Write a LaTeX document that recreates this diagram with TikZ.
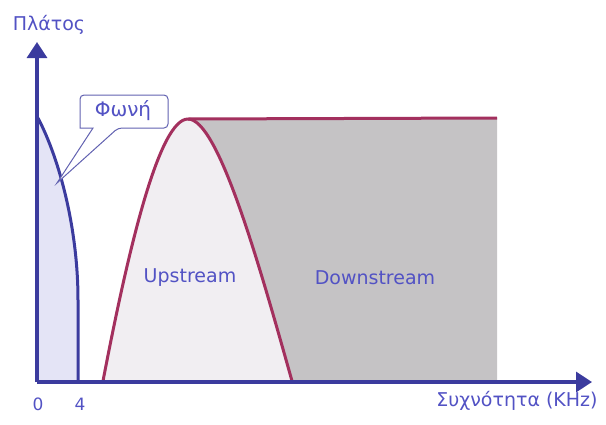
\documentclass[tikz,border=0pt]{standalone}
\usepackage{fontspec}
\setmainfont{DejaVu Sans}
\usetikzlibrary{arrows.meta}
\definecolor{axisblue}{HTML}{3B3B9E}
\definecolor{txtblue}{HTML}{5252C4}
\definecolor{curvered}{HTML}{A3305E}
\definecolor{voicefill}{HTML}{E4E4F6}
\definecolor{upfill}{HTML}{F1EEF2}
\definecolor{downfill}{HTML}{C5C3C5}
\tikzset{
  axisline/.style={draw=axisblue, line width=3.2pt, -{Triangle[length=16pt,width=20pt]}},
  bandline/.style={draw=curvered, line width=3pt, line join=round},
  lbl/.style={text=txtblue, inner sep=0pt, font=\fontsize{19}{21}\selectfont},
  smalllbl/.style={text=txtblue, inner sep=0pt, font=\fontsize{19}{21}\selectfont},
}
\begin{document}
\begin{tikzpicture}[x=1pt,y=-1pt]
\useasboundingbox (0,0) rectangle (606,424);
\coordinate (O) at (37,382);
\coordinate (ytip) at (37,42);
\coordinate (xtip) at (592,382);
\coordinate (ul) at (103,381);
\coordinate (pk) at (188,119);
\coordinate (ur) at (292,381);
% downstream gray region
\fill[downfill] (pk) -- (497,118) -- (497,380) -- (ur)
  .. controls (258,260) and (218,119) .. (pk) -- cycle;
% upstream fill
\fill[upfill] (ul) .. controls (130,240) and (160,119) .. (pk)
  .. controls (218,119) and (258,260) .. (ur) -- cycle;
% voice fill
\fill[voicefill] (37,382) -- (37,118) -- (38,118) .. controls (60,160) and (78,230) .. (78,300) -- (78,382) -- cycle;
% band curve
\draw[bandline] (ul) .. controls (130,240) and (160,119) .. (pk)
  .. controls (218,119) and (258,260) .. (ur);
\draw[bandline] (pk) -- (497,118);
% voice curve
\draw[draw=axisblue, line width=3pt] (38,118) .. controls (60,160) and (78,230) .. (78,300) -- (78,382);
% axes
\draw[axisline] (O) -- (ytip);
\draw[axisline] (O) -- (xtip);
% callout
\draw[draw=axisblue!80, line width=1pt, fill=white, rounded corners=4pt]
  (80,128) -- (80,95) -- (168,95) -- (168,128) -- (118,128) [sharp corners] -- (57,183) -- (93,128) -- cycle;
\node[smalllbl, font=\fontsize{20}{22}\selectfont] (voice) at (123,111) {Φωνή};
% labels
\node[smalllbl] (ylab) at (49,25) {Πλάτος};
\node[smalllbl] (xlab) at (517,401) {Συχνότητα (KHz)};
\node[smalllbl, font=\fontsize{17}{19}\selectfont] (zero) at (38,404) {0};
\node[smalllbl, font=\fontsize{17}{19}\selectfont] (four) at (80,404) {4};
\node[lbl] (up) at (190,278) {Upstream};
\node[lbl] (down) at (375,278) {Downstream};
\end{tikzpicture}
\end{document}
